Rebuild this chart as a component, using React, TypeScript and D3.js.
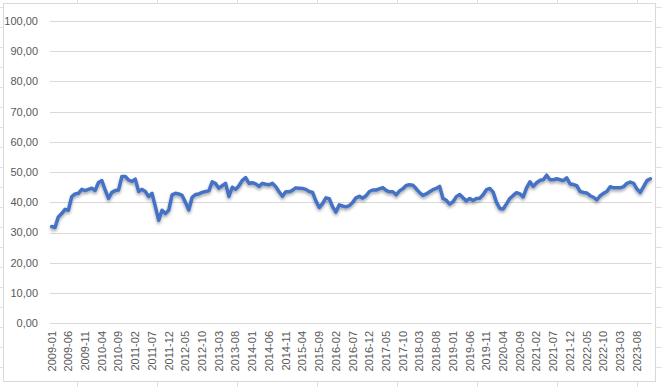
import { useEffect, useRef } from "react";
import * as d3 from "d3";

const W = 662;
const H = 387;

// monthly categories, 2009-01 .. 2023-12
const months = d3
  .timeMonths(new Date(2009, 0, 1), new Date(2024, 0, 1))
  .map((d) => d3.timeFormat("%Y-%m")(d));

const values = [
  32.0, 31.7, 35.2, 36.3, 37.7, 37.4, 41.9, 42.8, 43.0, 44.3, 43.9, 44.3,
  44.7, 43.9, 46.6, 47.2, 44.1, 41.3, 43.3, 43.9, 44.1, 48.6, 48.6, 47.4,
  46.9, 47.7, 43.6, 44.3, 43.6, 41.9, 43.0, 38.6, 34.1, 37.4, 36.3, 37.4,
  42.5, 43.0, 42.8, 42.3, 40.0, 37.5, 41.7, 42.6, 42.8, 43.3, 43.6, 43.8,
  46.8, 46.2, 44.7, 45.5, 46.3, 42.0, 45.0, 44.3, 45.5, 47.3, 48.2, 46.3,
  46.5, 46.1, 45.3, 46.3, 46.0, 45.8, 46.3, 45.2, 43.5, 42.0, 43.5, 43.5,
  44.0, 44.8, 44.7, 44.6, 44.3, 43.6, 43.3, 40.5, 38.3, 39.6, 41.5, 41.2,
  38.5, 36.8, 39.2, 38.8, 38.5, 38.9, 40.0, 41.5, 42.0, 41.4, 42.2, 43.6,
  44.1, 44.1, 44.5, 44.9, 44.0, 43.5, 43.5, 42.5, 43.8, 44.5, 45.6, 45.8,
  45.7, 44.5, 43.2, 42.3, 42.8, 43.5, 44.2, 44.6, 45.3, 41.3, 40.7, 39.4,
  40.2, 41.9, 42.6, 41.5, 40.5, 41.3, 40.6, 41.3, 41.4, 42.5, 44.2, 44.6,
  43.4, 40.0, 38.0, 37.8, 39.5, 41.3, 42.3, 43.2, 42.8, 41.8, 44.8, 46.8,
  45.3, 46.5, 47.3, 47.5, 49.0, 47.5, 47.5, 47.8, 47.5, 47.2, 48.1, 46.1,
  45.9, 45.5, 43.6, 43.3, 43.1, 42.2, 41.7, 40.8, 42.2, 43.0, 43.6, 45.2,
  44.8, 44.8, 44.8, 45.2, 46.3, 46.7, 46.3, 44.4, 43.3, 45.2, 47.2, 47.8,
];

const yTicks = [0, 10, 20, 30, 40, 50, 60, 70, 80, 90, 100];

const xTickLabels = [
  "2009-01", "2009-06", "2009-11", "2010-04", "2010-09", "2011-02",
  "2011-07", "2011-12", "2012-05", "2012-10", "2013-03", "2013-08",
  "2014-01", "2014-06", "2014-11", "2015-04", "2015-09", "2016-02",
  "2016-07", "2016-12", "2017-05", "2017-10", "2018-03", "2018-08",
  "2019-01", "2019-06", "2019-11", "2020-04", "2020-09", "2021-02",
  "2021-07", "2021-12", "2022-05", "2022-10", "2023-03", "2023-08",
];

export default function App() {
  const svgRef = useRef<SVGSVGElement>(null);

  useEffect(() => {
    if (!svgRef.current) return;
    const svg = d3.select(svgRef.current);
    svg.selectAll("*").remove();

    const font = "'Liberation Sans', Arial, sans-serif";

    // sheet background with cell grid
    svg.append("rect").attr("width", W).attr("height", H).attr("fill", "#fff");
    const sheet = svg.append("g").attr("stroke", "#e1e1e1").attr("stroke-width", 1);
    d3.range(7, H, 20).forEach((y) => {
      sheet.append("line").attr("x1", 0).attr("x2", W).attr("y1", y + 0.5).attr("y2", y + 0.5);
    });
    d3.range(77, W, 80).forEach((x) => {
      sheet.append("line").attr("x1", x + 0.5).attr("x2", x + 0.5).attr("y1", 0).attr("y2", H);
    });

    // chart area
    svg
      .append("rect")
      .attr("x", 3.5)
      .attr("y", 3.5)
      .attr("width", 652)
      .attr("height", 378)
      .attr("fill", "#fff")
      .attr("stroke", "#d9d9d9");

    const defs = svg.append("defs");
    const f = defs
      .append("filter")
      .attr("id", "shadow")
      .attr("x", "-5%")
      .attr("y", "-20%")
      .attr("width", "110%")
      .attr("height", "160%");
    f.append("feDropShadow")
      .attr("dx", 0)
      .attr("dy", 2)
      .attr("stdDeviation", 1.6)
      .attr("flood-color", "#000")
      .attr("flood-opacity", 0.35);

    const x = d3.scaleBand<string>().domain(months).range([50, 652]);
    const y = d3.scaleLinear().domain([0, 100]).range([323.3, 21]);

    // gridlines
    svg
      .append("g")
      .selectAll("line")
      .data(yTicks)
      .join("line")
      .attr("x1", 50)
      .attr("x2", 652)
      .attr("y1", (d) => Math.round(y(d)) + 0.5)
      .attr("y2", (d) => Math.round(y(d)) + 0.5)
      .attr("stroke", "#d9d9d9")
      .attr("stroke-width", 1);

    // y labels
    svg
      .append("g")
      .selectAll("text")
      .data(yTicks)
      .join("text")
      .attr("x", 38)
      .attr("y", (d) => y(d))
      .attr("dy", "0.35em")
      .attr("text-anchor", "end")
      .attr("font-family", font)
      .attr("font-size", 11)
      .attr("fill", "#595959")
      .text((d) => d3.format(".2f")(d).replace(".", ","));

    // x labels
    const half = x.bandwidth() / 2;
    svg
      .append("g")
      .selectAll("text")
      .data(xTickLabels)
      .join("text")
      .attr("transform", (d) => `translate(${(x(d) ?? 0) + half},331) rotate(-90)`)
      .attr("dy", "0.35em")
      .attr("text-anchor", "end")
      .attr("font-family", font)
      .attr("font-size", 11)
      .attr("fill", "#595959")
      .text((d) => d);

    // line
    const line = d3
      .line<number>()
      .x((_, i) => (x(months[i]) ?? 0) + half)
      .y((d) => y(d));

    svg
      .append("path")
      .datum(values)
      .attr("fill", "none")
      .attr("stroke", "#4472c4")
      .attr("stroke-width", 3.5)
      .attr("stroke-linejoin", "round")
      .attr("stroke-linecap", "round")
      .attr("filter", "url(#shadow)")
      .attr("d", line);
  }, []);

  return (
    <svg
      ref={svgRef}
      width={W}
      height={H}
      style={{ position: "absolute", left: 0, top: 0, display: "block" }}
    />
  );
}
